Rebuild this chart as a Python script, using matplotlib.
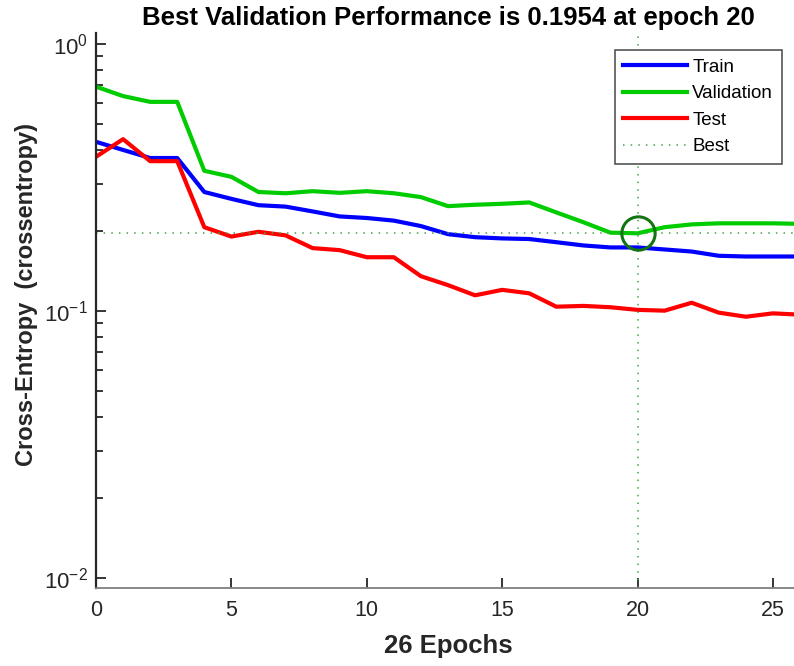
import numpy as np
import matplotlib
matplotlib.use("Agg")
import matplotlib.pyplot as plt
from matplotlib.ticker import LogLocator, FixedLocator, NullFormatter

plt.rcParams['font.family'] = ['Liberation Sans', 'DejaVu Sans']
plt.rcParams['mathtext.fontset'] = 'custom'
plt.rcParams['mathtext.rm'] = 'Liberation Sans'
plt.rcParams['mathtext.it'] = 'Liberation Sans:italic'
plt.rcParams['mathtext.bf'] = 'Liberation Sans:bold'

# Cross-entropy per epoch for each data split
epochs = list(range(27))
train = [0.430, 0.401, 0.374, 0.374, 0.279, 0.263, 0.249, 0.246, 0.236, 0.226,
         0.223, 0.218, 0.208, 0.194, 0.189, 0.187, 0.186, 0.181, 0.176, 0.173,
         0.173, 0.170, 0.167, 0.161, 0.160, 0.160, 0.160]
validation = [0.692, 0.638, 0.607, 0.607, 0.335, 0.318, 0.279, 0.276, 0.281, 0.277,
              0.281, 0.276, 0.267, 0.247, 0.250, 0.252, 0.255, 0.234, 0.215, 0.1965,
              0.1954, 0.206, 0.211, 0.213, 0.213, 0.213, 0.212]
test = [0.378, 0.440, 0.364, 0.364, 0.206, 0.190, 0.198, 0.192, 0.172, 0.169,
        0.159, 0.159, 0.135, 0.125, 0.1145, 0.120, 0.1165, 0.1038, 0.1045, 0.1033,
        0.101, 0.1003, 0.1074, 0.0986, 0.0952, 0.098, 0.0969]
best_epoch = 20
best_value = 0.1954
x_ticks = [0, 5, 10, 15, 20, 25]

fig = plt.figure(figsize=(7.94, 6.66), dpi=100)
W, H = 794, 666
ax = fig.add_axes([96 / W, (H - 588) / H, (800 - 96) / W, (588 - 33) / H])

ax.plot(epochs, train, color=(0, 0, 1), lw=3, label='Train', solid_joinstyle='round')
ax.plot(epochs, validation, color=(0, 0.8, 0), lw=3, label='Validation', solid_joinstyle='round')
ax.plot(epochs, test, color=(1, 0, 0), lw=3, label='Test', solid_joinstyle='round')

best_color = '#43a047'
ax.axhline(best_value, color=best_color, lw=1.1, ls=(0, (1, 4)), label='Best')
ax.axvline(best_epoch, color=best_color, lw=1.1, ls=(0, (1, 4)))
ax.plot([best_epoch], [best_value], 'o', ms=24, mfc='none', mec='#127512', mew=2.2)

ax.set_yscale('log')
ax.set_xlim(0, 26)
ax.set_ylim(0.00918, 1.099)
ax.xaxis.set_major_locator(FixedLocator(x_ticks))
ax.yaxis.set_major_locator(LogLocator(base=10, numticks=10))
ax.yaxis.set_minor_locator(LogLocator(base=10, subs=np.arange(2, 10), numticks=20))
ax.yaxis.set_minor_formatter(NullFormatter())

tick_color = '#262626'
ax.tick_params(axis='both', which='both', direction='in', colors=tick_color,
               labelsize=15.5, top=False, right=False)
ax.tick_params(axis='x', which='major', length=7, width=1.3, pad=9)
ax.tick_params(axis='y', which='major', length=7, width=1.3, pad=6, labelsize=16)
ax.tick_params(axis='y', which='minor', length=5, width=1.3)
ax.tick_params(axis='x', which='minor', bottom=False)

ax.spines['top'].set_visible(False)
ax.spines['right'].set_visible(False)
ax.spines['left'].set_color(tick_color)
ax.spines['left'].set_linewidth(1.6)
ax.spines['bottom'].set_color('#7f7f7f')
ax.spines['bottom'].set_linewidth(1.3)

ax.set_title('Best Validation Performance is 0.1954 at epoch 20',
             fontsize=18.5, fontweight='bold', pad=6)
ax.set_xlabel('26 Epochs', fontsize=18.5, fontweight='bold', color=tick_color, labelpad=9)
ax.set_ylabel('Cross-Entropy  (crossentropy)', fontsize=17, fontweight='bold',
              color=tick_color)
ax.yaxis.set_label_coords(-0.083, 0.528)

leg = ax.legend(loc='upper right', bbox_to_anchor=(0.974, 0.969), borderaxespad=0,
                fontsize=13.5, frameon=True, fancybox=False, framealpha=1,
                edgecolor='#555555', handlelength=3.4, handletextpad=0.3,
                labelspacing=0.5, borderpad=0.45)
leg.get_frame().set_linewidth(1.2)

fig.savefig('out.png', dpi=100)
